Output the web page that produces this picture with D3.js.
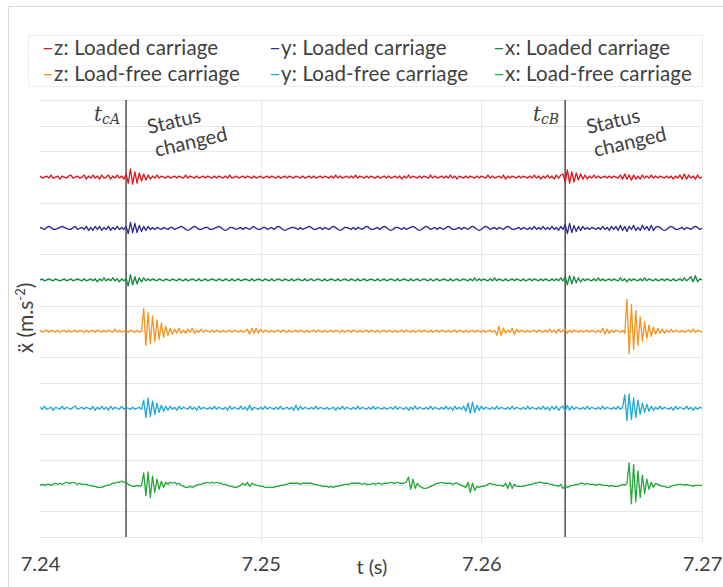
<!DOCTYPE html>
<html><head><meta charset="utf-8">
<script src="https://cdn.jsdelivr.net/npm/d3@7"></script>
<style>body{margin:0;background:#fff}svg{display:block}</style>
</head><body><svg id="chart" width="723" height="587"></svg>
<script>
// ---------- DATA ----------
const seriesNames = ["z: Loaded carriage","y: Loaded carriage","x: Loaded carriage",
                     "z: Load-free carriage","y: Load-free carriage","x: Load-free carriage"];
const seriesColors = ["#e3141c","#2e2a8e","#118a3c","#f7941d","#1fa9d5","#25a83a"];
const seriesOffsets = [14,12,10,8,5,2];
const tStart = 7.24, tStep = 0.0001;
const ampUnit = 0.04;

const zLoaded = [
1,-1,0,1,-1,2,-1,0,1,-2,1,0,-1,1,2,-1,0,1,-1,0,
2,-2,1,-1,2,-1,1,-2,2,-1,0,2,-2,1,-1,2,-1,1,-2,3,
-6,8,-7,5,-6,4,-4,3,-3,2,-2,1,-1,2,-1,1,0,-1,1,-1,
0,1,-1,1,0,-1,2,-1,1,0,-1,1,-1,0,1,-1,1,0,-1,1,
-1,1,0,-1,1,-1,2,-1,0,1,-1,0,1,-1,1,0,-1,1,-1,0,
1,-1,0,1,-1,1,0,-1,1,-1,0,1,-1,1,0,-1,1,0,-1,1,
-1,0,1,-1,1,-1,0,1,-1,1,0,-1,1,-1,2,-1,1,-1,0,1,
-1,1,-1,2,-1,1,0,-1,1,-1,1,0,-1,1,-1,0,1,-1,1,-1,
0,1,-1,1,-2,1,-1,2,-1,1,0,-1,1,-1,1,0,-1,2,-1,1,
-1,0,1,-1,1,-1,2,-1,1,-2,1,0,-1,1,-1,1,0,-1,1,-1,
1,0,-1,2,-1,1,-1,0,1,-1,2,-2,1,-1,1,0,-1,1,-1,1,
0,-1,1,-1,2,-1,1,-2,1,-1,2,-1,1,-2,2,-1,2,3,-5,7,
-6,5,-5,4,-3,3,-2,2,-2,1,-1,2,-1,1,-1,0,1,-1,1,-1,
1,0,-1,2,-2,3,-2,2,-3,2,-2,1,-2,2,-1,1,-1,2,-1,1,
-1,1,0,-1,1,-1,1,-2,1,-1,2,-2,3,-2,2,-1,1,-2,2,-1,
0];
const yLoaded = [
1,0,-1,1,2,1,-1,-1,0,1,2,1,0,-1,-1,1,2,-1,0,1,
-1,2,-2,1,-2,2,-1,2,-2,1,-1,2,-2,1,-1,2,-1,1,-1,2,
-5,6,-4,5,-4,3,-3,2,-2,2,-1,1,-1,1,0,-1,1,0,-1,1,
1,-1,0,1,2,1,-1,-2,-1,1,2,1,-1,-1,0,1,1,-1,-1,0,
1,2,1,-1,-2,-1,1,1,0,-1,0,1,-1,1,0,-1,1,2,0,-1,
-1,1,1,-1,0,1,-1,1,2,1,-1,-2,-1,0,1,1,0,-1,1,-1,
0,1,2,1,-1,-1,0,1,-1,1,0,-1,1,2,1,-1,-2,-1,1,1,
0,-1,1,-1,1,0,-1,1,2,1,-1,-1,0,1,-1,1,2,1,-1,-2,
-1,1,1,0,-1,1,-1,0,1,2,1,-1,-2,-1,1,2,1,-1,0,1,
-1,1,0,-1,1,2,1,-1,-1,0,1,-1,1,0,-1,1,2,1,-1,-2,
-1,1,2,1,-1,0,1,-1,1,0,-1,1,2,1,-1,-1,0,1,-1,1,
0,-1,1,-1,2,-1,1,-1,2,-1,1,-1,2,-1,1,-2,2,-1,4,-5,
5,-4,3,-3,2,-2,2,-1,1,-1,1,0,-1,1,-1,2,-1,1,-2,2,
-1,2,-2,3,-2,2,-3,2,-1,3,-2,1,-2,3,-1,2,-2,3,-2,1,
2,1,-1,-2,-1,1,2,1,-1,-1,0,1,-1,1,0,-1,1,2,1,-1,
0];
const xLoaded = [
0,1,-1,0,1,0,-1,1,0,-1,0,1,-1,0,1,-1,0,1,0,-1,
1,-1,0,1,-1,1,-2,1,-1,2,-1,1,-1,2,-1,1,-2,1,-1,1,
-6,5,-5,3,-4,2,-2,2,-1,1,-1,1,0,-1,1,0,-1,1,0,-1,
1,0,-1,1,0,-1,1,-1,0,1,0,-1,1,-1,0,1,-1,0,1,0,
-1,1,0,-1,1,0,-1,1,-1,0,1,-1,0,1,0,-1,1,-1,0,1,
0,-1,1,0,-1,1,-1,0,1,0,-1,1,0,-1,1,-1,0,1,0,-1,
1,-1,0,1,-1,0,1,0,-1,1,-1,0,1,0,-1,1,-1,0,1,0,
-1,1,0,-1,1,-1,0,1,-1,0,1,0,-1,1,-1,0,1,-1,0,1,
0,-1,1,-1,0,1,0,-1,1,-1,0,1,-1,0,1,0,-1,1,-1,0,
1,-1,0,1,0,-1,1,-1,0,1,-1,0,1,0,-1,1,-1,2,-1,1,
-1,1,0,-1,1,-1,2,-1,1,0,-1,1,-1,0,1,-1,1,0,-1,1,
-1,0,1,-1,1,0,-1,1,-1,1,0,-1,1,-1,1,-1,2,-1,3,-5,
4,-4,3,-3,2,-2,1,-1,1,0,-1,1,-1,2,-1,1,-1,0,1,-1,
1,0,-1,2,-1,1,-2,1,-1,1,0,-1,1,-1,2,-1,1,0,-1,1,
-1,0,1,-1,1,0,-1,1,-1,0,1,-1,2,-1,1,3,-2,4,-2,1,
0];
const zFree = [
1,-1,0,1,-1,1,0,-1,1,-1,0,1,-1,1,-1,0,1,-1,1,0,
-1,1,-1,0,1,-1,1,0,-1,1,-1,1,0,-1,2,-1,1,-1,0,1,
-1,1,0,-1,1,-1,0,22,-14,18,-12,15,-10,11,-8,8,-6,5,-4,3,
-3,2,-2,3,-2,1,-2,2,-1,3,-2,1,-1,2,-1,1,0,-1,1,-1,
1,0,-1,1,-1,0,1,-1,1,0,-1,1,-1,0,2,-3,3,-2,3,-2,
2,-1,1,0,-1,1,-1,0,1,-1,1,0,-1,1,-1,0,1,-1,1,0,
-1,1,-1,0,1,-1,1,0,-1,1,-1,0,1,-1,1,0,-1,1,-1,0,
1,-1,1,0,-1,1,-1,0,1,-1,1,0,-1,1,-1,0,1,-1,1,0,
-1,1,-1,0,1,-1,1,0,-1,1,-1,0,1,-1,1,0,-1,1,-1,0,
1,-1,1,0,-1,1,-1,0,1,-1,1,0,-1,1,-1,0,1,-1,1,0,
-1,1,-1,0,1,-1,1,-4,5,-4,3,-2,1,-1,3,-3,2,-1,1,0,
-1,1,-1,0,1,-1,1,0,-1,1,-1,2,-1,1,-2,2,-1,1,2,-2,
1,-1,1,0,-1,1,-1,0,1,-1,1,0,-1,1,-1,3,-3,2,-2,1,
-1,1,0,-1,1,-2,31,-22,26,-18,20,-14,14,-10,9,-7,6,-5,4,-3,
3,-2,2,-2,1,-1,2,-1,1,0,-1,1,-1,0,1,-1,2,-1,1,0,
-1];
const yFree = [
1,-1,2,-1,0,1,-2,1,0,-1,2,-1,1,0,-1,1,2,-1,0,1,
-1,1,0,-1,2,-2,1,-1,2,-1,1,-2,2,-1,1,0,-1,2,-1,1,
0,-1,1,-1,0,1,-1,8,-9,10,-8,7,-6,5,-4,3,-3,2,-2,2,
-1,1,-2,2,-1,1,0,-1,2,-1,1,-2,2,-1,1,0,-1,1,-1,2,
-1,1,0,-1,1,-2,2,-1,1,0,-1,2,-1,1,-2,3,-2,1,0,-1,
1,-1,2,-1,1,0,-1,1,-1,2,-1,0,1,-1,1,-2,3,-2,2,-1,
1,0,-1,1,-1,2,-1,1,0,-1,1,-1,0,1,-2,1,-1,2,-1,1,
0,-1,1,-1,2,-1,1,0,-1,1,-1,2,-1,1,0,-1,1,-1,0,1,
-1,2,-1,1,0,-1,1,-2,1,-1,2,-1,1,0,-1,1,-1,2,-1,1,
0,-1,1,-1,2,-1,1,-2,2,-1,1,-1,2,-3,5,-5,6,-4,3,-2,
2,-1,1,0,-1,1,-1,2,-1,1,0,-1,1,-1,2,-1,1,0,-1,1,
-1,2,-1,1,0,-1,1,-1,2,-1,1,-2,2,-1,2,-2,1,2,-3,3,
-2,2,-1,1,0,-1,1,-1,2,-1,1,0,-1,1,-1,2,-1,1,0,-1,
1,-1,2,-1,1,13,-12,14,-11,10,-9,8,-6,5,-4,4,-3,2,-2,1,
-1,2,-1,1,0,-1,1,-2,2,-1,1,0,-1,2,-1,1,-2,1,-1,1,
0];
const xFree = [
0,1,0,1,1,0,1,2,1,2,1,2,3,2,2,3,2,1,2,1,
1,1,0,0,-1,-1,-2,-2,-2,-1,0,0,1,2,2,3,3,4,3,3,
1,0,-1,-1,0,-1,0,12,-10,13,-12,9,-7,6,-4,4,-2,3,1,3,
2,3,1,2,0,-1,-2,-2,-1,-2,-1,0,1,1,2,2,3,2,3,2,
3,2,2,1,1,0,-1,-1,-2,-2,-1,0,2,0,3,-1,2,1,0,0,
-1,-1,-2,-2,-2,-2,-2,-1,-1,0,0,1,1,2,2,2,2,2,1,2,
2,2,2,2,1,1,0,0,-1,-1,-1,-2,-1,-2,-1,-1,0,0,1,1,
1,2,2,2,2,2,1,2,1,1,1,2,1,2,2,1,2,2,2,3,
2,2,3,2,2,2,3,8,-4,6,-3,2,-1,-2,-3,-3,-2,-1,0,1,
2,2,3,2,2,2,2,1,2,2,1,0,-1,-2,3,-7,2,-5,-1,-2,
-1,-1,0,1,2,1,1,0,0,0,-1,2,-3,3,-3,1,-1,-1,-1,-1,
0,0,1,1,2,2,3,3,2,2,2,1,1,0,0,-1,1,-3,-1,-2,
-1,0,0,1,1,2,2,1,2,1,1,1,0,1,1,0,0,0,-1,0,
-1,-1,-1,0,1,0,2,22,-18,20,-16,14,-12,10,-8,6,-4,3,-2,2,
1,0,-1,-1,-2,-2,-1,0,0,1,1,1,0,1,0,0,-1,0,0,0,
0];
const seriesValues = [zLoaded, yLoaded, xLoaded, zFree, yFree, xFree];

const xTicks = [7.24, 7.25, 7.26, 7.27];
const xGrid = [7.25, 7.26, 7.27];
const changeTimes = [7.2439, 7.2638];
const changeSubs = ["cA", "cB"];
const xTitle = "t (s)";

// ---------- CHART ----------
const svg = d3.select("#chart");
const font = "Lato, 'Open Sans', sans-serif";
const txt = "#404040";

svg.append("rect").attr("x",8.5).attr("y",6.5).attr("width",800).attr("height",800)
  .attr("fill","#fff").attr("stroke","#d9d9d9");

const x = d3.scaleLinear().domain([7.24, 7.27]).range([40, 702]);
const y = d3.scaleLinear().domain([0, 17]).range([536.7, 100]);

// legend
svg.append("rect").attr("x",28.5).attr("y",35.5).attr("width",674).attr("height",51)
  .attr("fill","none").attr("stroke","#ececec");
const legCols = [42, 269, 493], legRows = [54.5, 80.5];
seriesNames.forEach((n,i)=>{
  const t = svg.append("text").attr("x",legCols[i%3]).attr("y",legRows[Math.floor(i/3)])
    .attr("font-family",font).attr("font-size",20.5).attr("letter-spacing",0.15).attr("fill",txt);
  t.append("tspan").attr("fill",seriesColors[i]).text("\u2013");
  t.append("tspan").text(n);
});

// grid
svg.append("g").selectAll("line").data(y.ticks(17)).join("line")
  .attr("x1",40).attr("x2",702).attr("y1",d=>Math.round(y(d))+0.5).attr("y2",d=>Math.round(y(d))+0.5)
  .attr("stroke","#e7e7e7");
svg.append("g").selectAll("line").data(xGrid).join("line")
  .attr("x1",d=>Math.round(x(d))+0.5).attr("x2",d=>Math.round(x(d))+0.5)
  .attr("y1",100).attr("y2",543).attr("stroke","#e7e7e7");

// change markers
changeTimes.forEach((tc,k)=>{
  const cx = x(tc);
  svg.append("line").attr("x1",cx).attr("x2",cx).attr("y1",100).attr("y2",537)
    .attr("stroke","#595959").attr("stroke-width",1.6);
  const lab = svg.append("text").attr("x",cx-6).attr("y",121).attr("text-anchor","end")
    .attr("font-family","'DejaVu Serif', serif").attr("font-style","italic").attr("fill",txt);
  lab.append("tspan").attr("font-size",20).text("t");
  lab.append("tspan").attr("font-size",14).attr("dy",3).text(changeSubs[k]);
  const g = svg.append("g").attr("transform",`translate(${cx+23},134) rotate(-13)`);
  g.append("text").attr("x",0).attr("y",0).attr("font-family",font).attr("font-size",20)
    .attr("fill",txt).text("Status");
  g.append("text").attr("x",2).attr("y",24).attr("font-family",font).attr("font-size",20)
    .attr("fill",txt).text("changed");
});

// traces
seriesValues.forEach((vals,k)=>{
  const line = d3.line()
    .x((d,i)=>x(tStart + i*tStep))
    .y(d=>y(seriesOffsets[k] + d*ampUnit));
  svg.append("path").datum(vals).attr("d",line).attr("fill","none")
    .attr("stroke",seriesColors[k]).attr("stroke-width",1.3).attr("stroke-linejoin","round");
});

// x axis
const ax = svg.append("g").attr("transform","translate(0,552)")
  .call(d3.axisBottom(x).tickValues(xTicks).tickFormat(d3.format(".2f")).tickSize(0).tickPadding(0));
ax.select(".domain").remove();
ax.selectAll("text").attr("font-family",font).attr("font-size",20).attr("fill",txt).attr("dy","0.95em");
svg.append("text").attr("x",372).attr("y",574).attr("text-anchor","middle")
  .attr("font-family",font).attr("font-size",20).attr("fill",txt).text(xTitle);

// y title
const yt = svg.append("text").attr("transform","translate(33,318) rotate(-90)")
  .attr("text-anchor","middle").attr("font-family",font).attr("font-size",21).attr("fill",txt);
yt.append("tspan").text("\u1E8D (m.s");
yt.append("tspan").attr("font-size",13).attr("dy",-8).text("-2");
yt.append("tspan").attr("dy",8).text(")");
</script></body></html>
